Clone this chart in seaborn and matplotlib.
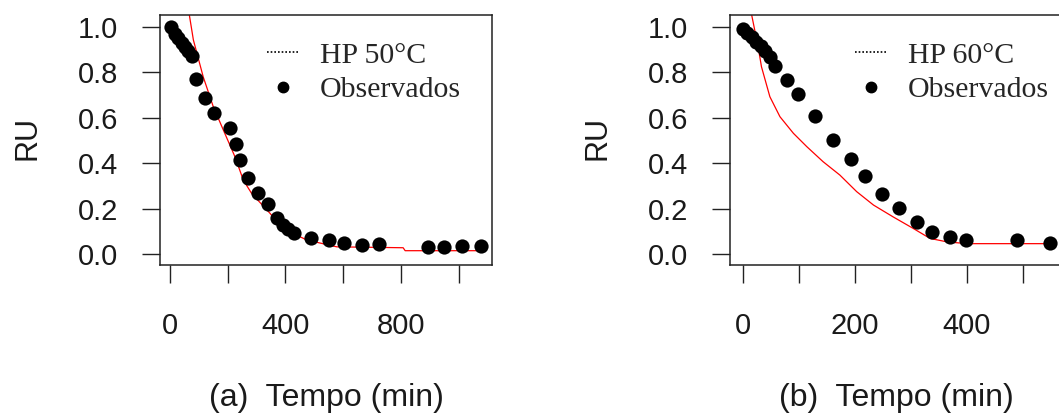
import matplotlib
matplotlib.use("Agg")
import matplotlib.pyplot as plt
from matplotlib.lines import Line2D
import seaborn as sns

# Observed moisture ratio, drying at 50 °C
t_obs_50 = [5, 17, 28, 40, 52, 63, 75, 91, 122, 152, 208, 229, 243, 272, 306, 341,
            370, 393, 410, 430, 488, 551, 603, 664, 726, 895, 950, 1012, 1077]
ru_obs_50 = [0.998, 0.968, 0.950, 0.931, 0.913, 0.893, 0.872, 0.770, 0.686, 0.623,
             0.557, 0.485, 0.414, 0.333, 0.270, 0.220, 0.157, 0.128, 0.109, 0.094,
             0.073, 0.062, 0.051, 0.040, 0.043, 0.032, 0.032, 0.035, 0.035]

# Henderson-Pabis prediction, 50 °C
t_hp_50 = [55, 67, 81, 115, 150, 185, 225, 254, 283, 347, 370, 416, 474, 578, 808, 815, 1077]
ru_hp_50 = [1.150, 1.053, 0.943, 0.781, 0.649, 0.546, 0.429, 0.326, 0.267, 0.179,
            0.142, 0.098, 0.062, 0.032, 0.028, 0.015, 0.015]

# Observed moisture ratio, drying at 60 °C
t_obs_60 = [0, 8, 16, 24, 32, 40, 48, 58, 78, 99, 128, 161, 193, 217, 249, 279,
            311, 338, 370, 399, 489, 548]
ru_obs_60 = [0.990, 0.972, 0.955, 0.935, 0.915, 0.893, 0.868, 0.830, 0.767, 0.706,
             0.607, 0.502, 0.421, 0.344, 0.264, 0.201, 0.142, 0.098, 0.076, 0.062,
             0.062, 0.051]

# Henderson-Pabis prediction, 60 °C
t_hp_60 = [10, 15.5, 27, 33, 48, 66, 90, 114, 143, 173, 203, 233, 268, 304, 334, 364, 400, 548]
ru_hp_60 = [1.120, 1.053, 0.913, 0.825, 0.693, 0.605, 0.532, 0.473, 0.407, 0.348,
            0.275, 0.216, 0.164, 0.113, 0.069, 0.054, 0.046, 0.046]

y_ticks = [0.0, 0.2, 0.4, 0.6, 0.8, 1.0]
x_ticks_50 = [0, 200, 400, 600, 800, 1000]
x_labels_50 = ["0", "", "400", "", "800", ""]
x_ticks_60 = [0, 100, 200, 300, 400, 500]
x_labels_60 = ["0", "", "200", "", "400", ""]

sns.set_style("white")
plt.rcParams["font.family"] = ["Liberation Sans", "DejaVu Sans"]

fig = plt.figure(figsize=(10.59, 4.19), dpi=100)
W, H = 1059.0, 419.0
ax_a = fig.add_axes([160 / W, 154 / H, 332 / W, 250 / H])
ax_b = fig.add_axes([730 / W, 154 / H, 332 / W, 250 / H])

panels = [
    (ax_a, t_obs_50, ru_obs_50, t_hp_50, ru_hp_50, (-34.7, 1116), x_ticks_50, x_labels_50,
     "(a)  Tempo (min)", "HP 50°C", 0.322),
    (ax_b, t_obs_60, ru_obs_60, t_hp_60, ru_hp_60, (-23.2, 569.6), x_ticks_60, x_labels_60,
     "(b)  Tempo (min)", "HP 60°C", 0.3765),
]

for ax, t_o, r_o, t_m, r_m, xlim, xt, xl, xlab, leg_lab, leg_x in panels:
    sns.lineplot(x=t_m, y=r_m, color="red", lw=0.9, ax=ax, sort=False, estimator=None)
    sns.scatterplot(x=t_o, y=r_o, color="black", s=105, linewidth=0, ax=ax, zorder=3)
    ax.set_xlim(*xlim)
    ax.set_ylim(-0.048, 1.053)
    ax.set_xticks(xt)
    ax.set_xticklabels(xl)
    ax.set_yticks(y_ticks)
    ax.set_yticklabels([f"{v:.1f}" for v in y_ticks])
    for sp in ax.spines.values():
        sp.set_visible(True)
        sp.set_color("#222222")
        sp.set_linewidth(1.1)
    ax.tick_params(axis="both", direction="out", length=13, width=1.0, color="#222222",
                   labelsize=21, labelcolor="#1a1a1a", left=True, bottom=True)
    ax.tick_params(axis="y", pad=17)
    ax.tick_params(axis="x", pad=21)
    ax.set_xlabel(xlab, fontsize=23, color="#1a1a1a")
    ax.xaxis.set_label_coords(0.5, -0.532)
    ax.xaxis.label.set_verticalalignment("center")
    ax.set_ylabel("RU", fontsize=22, color="#1a1a1a")
    ax.yaxis.set_label_coords(-0.398, 0.508)
    ax.yaxis.label.set_verticalalignment("center")

    handles = [
        Line2D([], [], color="black", lw=1.2, ls=(0, (1, 1.2))),
        Line2D([], [], color="black", marker="o", ls="none", markersize=7.5),
    ]
    ax.legend(handles, [leg_lab, "Observados"], loc="upper left",
              bbox_to_anchor=(leg_x, 0.892), frameon=False, borderpad=0,
              borderaxespad=0, handlelength=1.07, handletextpad=0.7,
              labelspacing=0.25, prop={"family": "Liberation Serif", "size": 21.5})

fig.savefig("out.png", dpi=100)
